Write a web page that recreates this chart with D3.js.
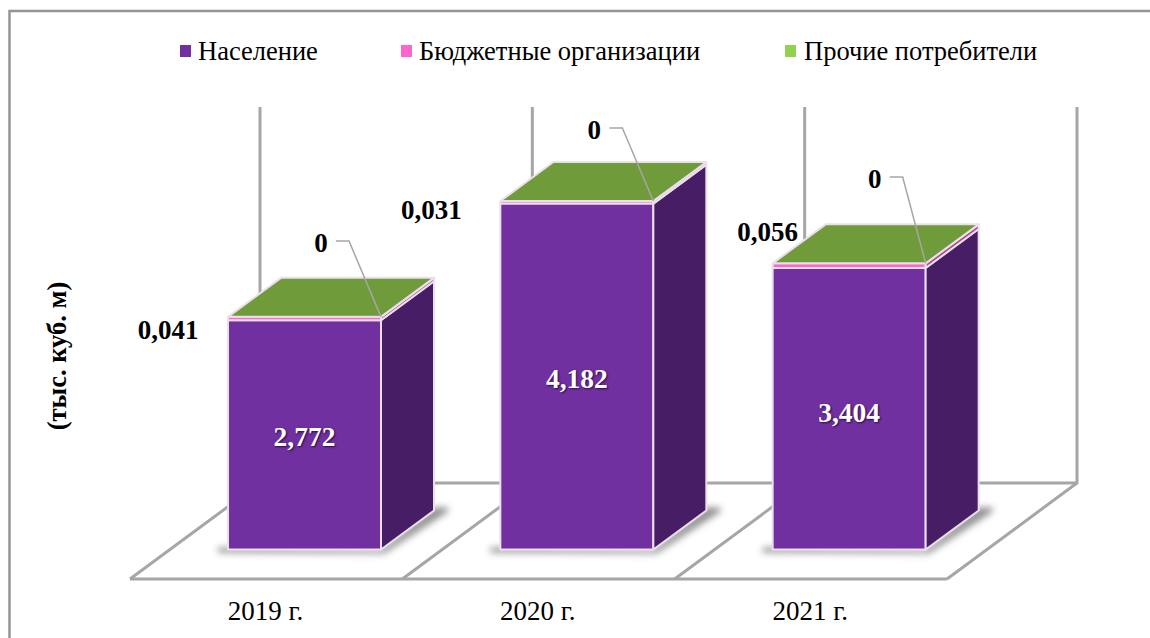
<!DOCTYPE html>
<html lang="ru"><head><meta charset="utf-8">
<style>html,body{margin:0;padding:0;background:#fff}svg{display:block}text{font-family:"Liberation Serif","Times New Roman",serif;fill:#000}</style>
<script src="https://cdn.jsdelivr.net/npm/d3@7"></script></head><body>
<script>
const categories = ["2019 г.", "2020 г.", "2021 г."];
const seriesNames = ["Население", "Бюджетные организации", "Прочие потребители"];
const population = [2772, 4182, 3404];
const budget = [41, 31, 56];
const other = [0, 0, 0];
const populationLabels = ["2,772", "4,182", "3,404"];
const budgetLabels = ["0,041", "0,031", "0,056"];
const otherLabels = ["0", "0", "0"];
const axisTitle = "(тыс. куб. м)";

const frontColors = ["#7030A0", "#FF66CC", "#92D050"];
const sideColors = ["#471E66", "#B0488F", "#5D8434"];
const topColors = ["#6F2FA0", "#E85DB9", "#6F9B3B"];
const legendColors = ["#7030A0", "#FF66CC", "#92D050"];
const budgetLabelShift = [[-60, 13], [-69, 9], [-5, -31]];

const W = 1150, H = 638, dX = 53, dY = -39, floorDX = 130, floorDY = -96, barW = 153, barInset = 98;

const svg = d3.select("body").append("svg").attr("width", W).attr("height", H);
const defs = svg.append("defs");
defs.append("filter").attr("id", "shadow").attr("x", "-20%").attr("y", "-20%").attr("width", "140%").attr("height", "140%")
  .append("feGaussianBlur").attr("stdDeviation", 3.5);

const xCell = d3.scaleBand().domain(categories).range([130, 947]);
const y = d3.scaleLinear().domain([0, 4546]).range([549.5, 173.5]);
const stack = d3.stack().keys([0, 1, 2]).value((d, k) => d[k]);
const rows = categories.map((c, i) => [population[i], budget[i], other[i]]);
const stacked = stack(rows);

// outer frame
svg.append("path").attr("d", `M9.5,${H} V11 H${W}`).attr("fill", "none").attr("stroke", "#959595").attr("stroke-width", 2.5);

// floor and back wall
const frontY = 579, backY = frontY + floorDY, wallTop = backY - (y(0) - y(4546));
const grid = svg.append("g").attr("fill", "none").attr("stroke", "#a6a6a6").attr("stroke-width", 3);
const ticks = categories.map(c => xCell(c)).concat(xCell.range()[1]);
grid.append("path").attr("d", `M${ticks[0]},${frontY} H${ticks[3]} M${ticks[0] + floorDX},${backY} H${ticks[3] + floorDX}`);
ticks.forEach(t => grid.append("path").attr("d", `M${t},${frontY} L${t + floorDX},${backY} V${wallTop}`));

const barX = c => xCell(c) + barInset;

// ground shadows
svg.append("g").selectAll("path").data(categories).join("path")
  .attr("filter", "url(#shadow)").attr("fill", "#4a4a4a").attr("opacity", 0.62)
  .attr("d", c => {
    const a = barX(c), b = a + barW, z = y(0);
    return `M${a - 10},${z - 2} L${a - 10},${z + 3} L${b + 3},${z + 4} L${b + dX + 14},${z + dY + 1} L${b + dX + 14},${z + dY - 3} L${b + dX},${z + dY - 3} L${b},${z} Z`;
  });

// bars
const bars = svg.append("g");
categories.forEach((c, i) => {
  const a = barX(c), b = a + barW;
  stacked.forEach((s, k) => {
    const y0 = y(s[i][0]), y1 = y(s[i][1]);
    const g = bars.append("g").attr("stroke", "#ecdfec").attr("stroke-width", 2).attr("stroke-linejoin", "round");
    if (y0 - y1 > 0) {
      g.append("rect").attr("x", a).attr("y", y1).attr("width", barW).attr("height", y0 - y1).attr("fill", frontColors[k]);
      g.append("path").attr("fill", sideColors[k]).attr("d", `M${b},${y0} L${b + dX},${y0 + dY} V${y1 + dY} L${b},${y1} Z`);
    }
    if (k === 2) {
      g.append("path").attr("fill", topColors[k]).attr("d", `M${a},${y1} L${a + dX},${y1 + dY} H${b + dX} L${b},${y1} Z`);
    }
  });
});

// value labels inside the bars
const inner = svg.append("g").attr("text-anchor", "middle").attr("font-weight", "bold").attr("font-size", 27.5);
inner.selectAll("text").data(categories).join("text")
  .attr("x", c => barX(c) + barW / 2)
  .attr("y", (c, i) => y(population[i] / 2) + [11, 11, 13][i])
  .style("fill", "#fff")
  .style("text-shadow", "1px 1px 2px rgba(40,10,60,.95)")
  .text((c, i) => populationLabels[i]);

// budget labels
const outer = svg.append("g").attr("text-anchor", "middle").attr("font-weight", "bold").attr("font-size", 27);
categories.forEach((c, i) => {
  const s = y(population[i] + budget[i]);
  outer.append("text").attr("x", barX(c) + budgetLabelShift[i][0]).attr("y", s + budgetLabelShift[i][1] + 9).text(budgetLabels[i]);
});

// leader lines and zero labels
categories.forEach((c, i) => {
  const ex = barX(c) + barW, ey = y(population[i] + budget[i]);
  const rise = ey - [241, 128, 177][i], run = [32, 31, 23][i];
  svg.append("path").attr("fill", "none").attr("stroke", "#a6a6a6").attr("stroke-width", 1.5)
    .attr("d", `M${ex},${ey} L${ex - run},${ey - rise} H${ex - run - 13}`);
  outer.append("text").attr("x", ex - run - 28).attr("y", ey - rise + 10.5).text(otherLabels[i]);
});

// category labels
svg.append("g").attr("text-anchor", "middle").attr("font-size", 27).selectAll("text").data(categories).join("text")
  .attr("x", c => barX(c) + barW / 2 - 39).attr("y", 620).text(c => c);

// axis title
svg.append("text").attr("transform", "translate(66,356) rotate(-90)").attr("text-anchor", "middle")
  .attr("font-weight", "bold").attr("font-size", 26.5).text(axisTitle);

// legend
const legendX = d3.scaleOrdinal().domain(seriesNames).range([180, 401, 785]);
const lg = svg.append("g").selectAll("g").data(seriesNames).join("g")
  .attr("transform", d => `translate(${legendX(d)},0)`);
lg.append("rect").attr("y", 45).attr("width", 11).attr("height", 12).attr("fill", (d, i) => legendColors[i]);
lg.append("text").attr("x", (d, i) => [18, 18, 19][i]).attr("y", 60).attr("font-size", 26.5).text(d => d);
</script></body></html>
